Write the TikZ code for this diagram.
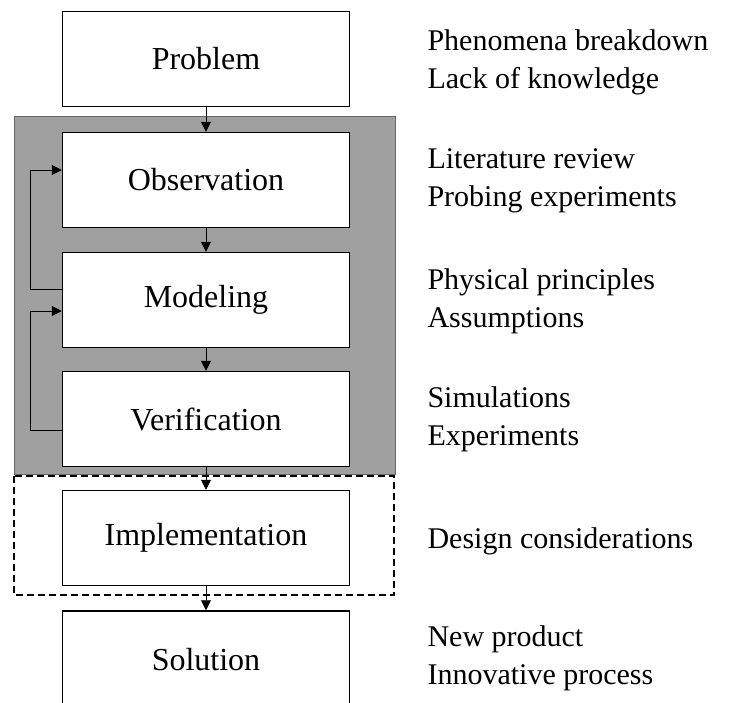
\documentclass[tikz,border=0pt]{standalone}
\usepackage{fontspec}
\setmainfont{Liberation Serif}
\usetikzlibrary{arrows.meta}
\definecolor{regiongray}{RGB}{160,160,160}

\begin{document}
\begin{tikzpicture}[x=1pt,y=-1pt,
  stage/.style={draw,line width=1.5pt,fill=white,minimum width=287pt,minimum height=95pt,font=\fontsize{32}{36}\selectfont},
  note/.style={anchor=west,align=left,font=\fontsize{30}{38}\selectfont},
  flow/.style={-{Triangle[length=10pt,width=10pt]},line width=0.9pt}]
\useasboundingbox (0,0) rectangle (739,702);

% Shaded and dashed regions
\draw[fill=regiongray,draw=black!60,line width=0.8pt] (14,116) rectangle (395,474);
\draw[line width=1.3pt,dash pattern=on 7pt off 4pt] (14,476) rectangle (394,595);

% Stages
\node[stage] (problem) at (206,59) {Problem};
\node[stage] (observation) at (206,180) {Observation};
\node[stage] (modeling) at (206,300) {Modeling};
\node[stage] (verification) at (206,419) {Verification};
\node[stage] (implementation) at (206,538) {Implementation};
\node[stage,minimum height=98pt] (solution) at (206,660) {Solution};

% Main flow
\draw[flow] (problem) -- (observation);
\draw[flow] (observation) -- (modeling);
\draw[flow] (modeling) -- (verification);
\draw[flow] (verification) -- (implementation);
\draw[flow] (implementation) -- (solution);

% Feedback loops
\draw[flow] ([yshift=11pt]modeling.west) -- ++(-31,0) |- ([yshift=10pt]observation.west);
\draw[flow] ([yshift=-11pt]verification.west) -- ++(-31,0) |- ([yshift=-11pt]modeling.west);

% Annotations
\node[note] (problemnote) at (424,62) {Phenomena breakdown\\Lack of knowledge};
\node[note] (observationnote) at (424,181) {Literature review\\Probing experiments};
\node[note] (modelingnote) at (424,301) {Physical principles\\Assumptions};
\node[note] (verificationnote) at (424,419) {Simulations\\Experiments};
\node[note] (implementationnote) at (424,541) {Design considerations};
\node[note] (solutionnote) at (424,658) {New product\\Innovative process};
\end{tikzpicture}
\end{document}
